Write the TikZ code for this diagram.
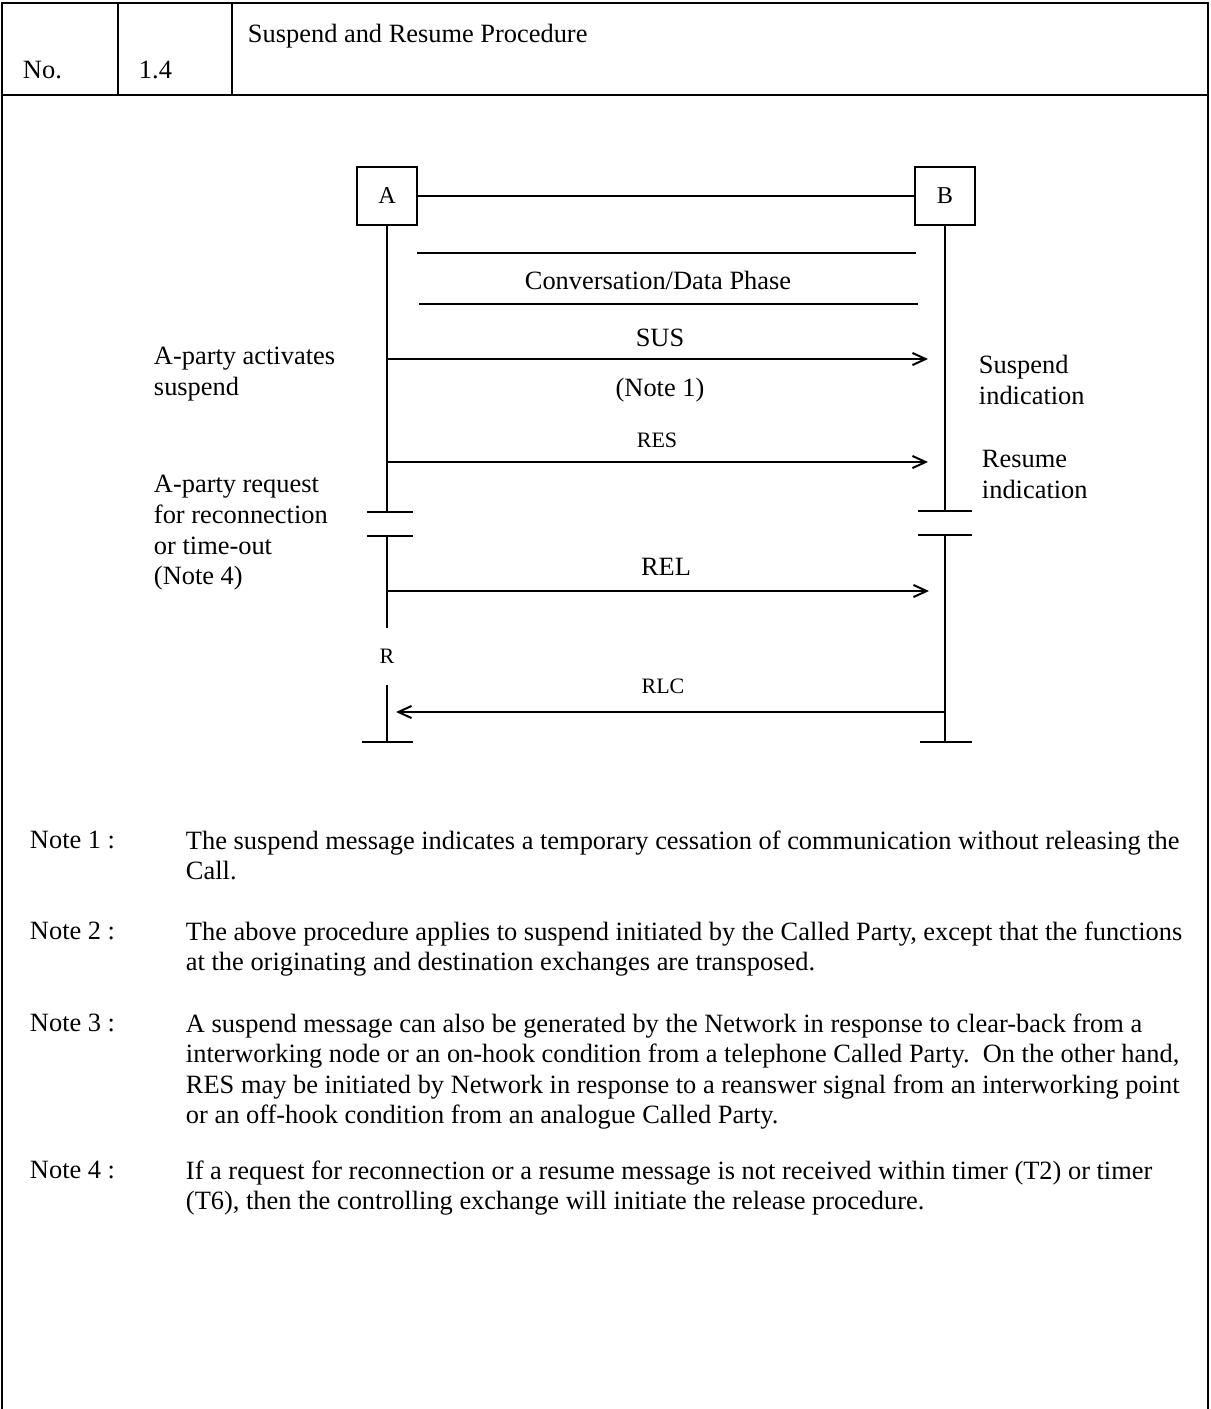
\documentclass[tikz,border=0pt]{standalone}
\usepackage{fontspec}
\setmainfont{Liberation Serif}
\usetikzlibrary{arrows.meta}

\tikzset{
    txt/.style={font=\fontsize{12}{14}\selectfont, inner sep=0pt},
    sml/.style={font=\fontsize{10}{12}\selectfont, inner sep=0pt},
    party/.style={draw, minimum width=27.3pt, minimum height=26.4pt, inner sep=0pt, font=\fontsize{11}{12}\selectfont},
    side/.style={txt, align=left, anchor=north west},
    notetxt/.style={font=\fontsize{12}{13.8}\selectfont, align=left, anchor=north west, inner sep=0pt},
    msg/.style={-{Straight Barb[length=6pt, width=5.5pt]}},
    frame/.style={line width=1.2pt},
}

\begin{document}
\begin{tikzpicture}[x=0.4545pt, y=-0.4545pt, line width=0.9pt]
    \useasboundingbox (0,0) rectangle (1211,1409);

    % Cornice e intestazione
    \draw[frame] (2,1409) -- (2,3) -- (1208,3) -- (1208,1409);
    \draw[frame] (2,95) -- (1208,95);
    \draw[frame] (118,3) -- (118,95);
    \draw[frame] (232,3) -- (232,95);
    \node[txt, anchor=base west] (no) at (22,78) {No.};
    \node[txt, anchor=base west] (num) at (138,78) {1.4};
    \node[txt, anchor=base west] (title) at (247,42) {Suspend and Resume Procedure};

    % Entita
    \node[party] (A) at (387,196) {A};
    \node[party] (B) at (945,196) {B};
    \draw (A) -- (B);

    % Fase di conversazione
    \coordinate (c1) at (417,253);
    \coordinate (c2) at (916,253);
    \draw (c1) -- (c2);
    \node[txt] (conv) at (658,280) {Conversation/Data Phase};
    \draw[line width=0.6pt] (419,304) -- (918,304);
    \draw (419,304) -- (505,304);
    \draw (844,304) -- (918,304);

    % Linee di vita
    \coordinate (a1) at (387,512);
    \coordinate (a2) at (387,536);
    \coordinate (a3) at (387,742);
    \coordinate (b1) at (945,511);
    \coordinate (b2) at (945,535);
    \coordinate (b3) at (945,742);
    \node[sml, minimum height=25pt] (R) at (387,656) {R};
    \draw (A) -- (a1);
    \draw (a2) -- (R);
    \draw (R) -- (a3);
    \draw (B) -- (b1);
    \draw (b2) -- (b3);
    % tacche
    \draw (a1) ++(-20,0) -- ++(46,0);
    \draw (a2) ++(-20,0) -- ++(46,0);
    \draw (a3) ++(-25,0) -- ++(51,0);
    \draw (b1) ++(-27,0) -- ++(54,0);
    \draw (b2) ++(-27,0) -- ++(54,0);
    \draw (b3) ++(-25,0) -- ++(52,0);

    % Messaggi
    \coordinate (susA) at (387,359);
    \coordinate (susB) at (928,359);
    \draw[msg] (susA) -- (susB);
    \node[txt] (sus) at (660,338) {SUS};
    \node[txt] (n1) at (660,390) {(Note 1)};

    \coordinate (resA) at (387,462);
    \coordinate (resB) at (928,462);
    \draw[msg] (resA) -- (resB);
    \node[sml] (res) at (657,440) {RES};

    \coordinate (relA) at (387,591);
    \coordinate (relB) at (929,591);
    \draw[msg] (relA) -- (relB);
    \node[txt] (rel) at (666,567) {REL};

    \coordinate (rlcB) at (945,712);
    \coordinate (rlcA) at (396,712);
    \draw[msg] (rlcB) -- (rlcA);
    \node[sml] (rlc) at (663,686) {RLC};

    % Etichette laterali
    \node[side] (act) at (153,346) {A-party activates\\suspend};
    \node[side] (req) at (153,474) {A-party request\\for reconnection\\or time-out\\(Note 4)};
    \node[side] (susind) at (978,354) {Suspend\\indication};
    \node[side] (resind) at (981,449) {Resume\\indication};

    % Note
    \node[notetxt] (l1) at (29,830) {Note 1 :};
    \node[notetxt] (t1) at (185,830) {The suspend message indicates a temporary cessation of communication without releasing the\\Call.};
    \node[notetxt] (l2) at (29,921) {Note 2 :};
    \node[notetxt] (t2) at (185,921) {The above procedure applies to suspend initiated by the Called Party, except that the functions\\at the originating and destination exchanges are transposed.};
    \node[notetxt] (l3) at (29,1013) {Note 3 :};
    \node[notetxt] (t3) at (185,1013) {A suspend message can also be generated by the Network in response to clear-back from a\\interworking node or an on-hook condition from a telephone Called Party.\ \ On the other hand,\\RES may be initiated by Network in response to a reanswer signal from an interworking point\\or an off-hook condition from an analogue Called Party.};
    \node[notetxt] (l4) at (29,1160) {Note 4 :};
    \node[notetxt] (t4) at (185,1160) {If a request for reconnection or a resume message is not received within timer (T2) or timer\\(T6), then the controlling exchange will initiate the release procedure.};
\end{tikzpicture}
\end{document}
